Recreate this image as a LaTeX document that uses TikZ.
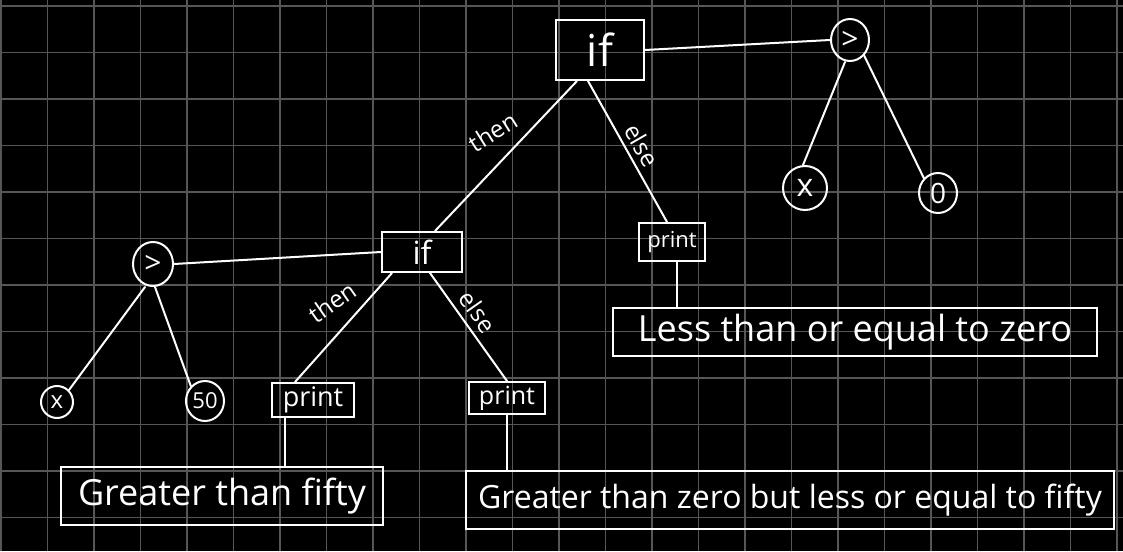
\documentclass[tikz,border=0pt]{standalone}
\usepackage{fontspec}
\setmainfont{Open Sans}
\usetikzlibrary{shapes.geometric}
\definecolor{gridgray}{HTML}{565656}
\begin{document}
\begin{tikzpicture}[x=1pt,y=-1pt,
  ink/.style={draw=white, line width=2pt},
  gridline/.style={draw=gridgray, line width=1.2pt},
  boxnode/.style={ink, rectangle, text=white, inner sep=0pt},
  opnode/.style={ink, ellipse, text=white, inner sep=0pt},
  conn/.style={ink, line cap=round},
  lbl/.style={text=white, inner sep=0pt, font=\fontsize{24}{26}\selectfont},
  fs/.style={font=\fontsize{#1}{#1}\selectfont}]
% background and grid
\fill[black] (0,0) rectangle (1123,551);
\useasboundingbox (0,0) rectangle (1123,551);
\foreach \i in {0,...,24} \draw[gridline] ({1+46.5*\i},0) -- ({1+46.5*\i},551);
\foreach \j in {0,...,11} \draw[gridline] (0,{6+46.5*\j}) -- (1123,{6+46.5*\j});

% top tree
\node[boxnode, minimum width=88, minimum height=60, fs=44] (if1) at (600,50) {if};
\node[opnode, minimum width=38, minimum height=42, fs=30] (gt1) at (850,40) {>};
\node[opnode, minimum width=44, minimum height=44, fs=32] (x1) at (805,188) {x};
\node[opnode, minimum width=38, minimum height=40, fs=28] (z1) at (938,193) {0};
\node[boxnode, minimum width=66, minimum height=38, fs=22] (p1) at (672,242) {print};
\node[boxnode, minimum width=484, minimum height=48, fs=36] (less) at (855,332) {Less than or equal to zero};

% left subtree
\node[boxnode, minimum width=80, minimum height=40, fs=32] (if2) at (422,252) {if};
\node[opnode, minimum width=40, minimum height=44, fs=30] (gt2) at (153,264) {>};
\node[opnode, minimum width=32, minimum height=32, fs=24] (x2) at (57,402) {x};
\node[opnode, minimum width=38, minimum height=40, fs=22] (f2) at (205,401) {50};
\node[boxnode, minimum width=82, minimum height=34, fs=27] (p2) at (313,400) {print};
\node[boxnode, minimum width=76, minimum height=32, fs=25] (p3) at (507,398) {print};
\node[boxnode, minimum width=322, minimum height=58, fs=36] (gf) at (222,496) {Greater than fifty};
\node[boxnode, minimum width=648, minimum height=58, fs=32] (gz) at (790,500) {Greater than zero but less or equal to fifty};

% connectors
\draw[conn] (if1.east) -- (gt1.west);
\draw[conn] ([xshift=-23]if1.south) -- ([xshift=13]if2.north);
\draw[conn] ([xshift=-12]if1.south) -- ([xshift=-5]p1.north);
\draw[conn] ([xshift=-5]gt1.south) -- ([xshift=-2]x1.north);
\draw[conn] (gt1.south east) -- (z1.north west);
\draw[conn] ([xshift=5]p1.south) -- ([xshift=5]p1.south |- less.north);

\draw[conn] (if2.west) -- (gt2.east);
\draw[conn] ([xshift=-8]gt2.south) -- (x2.north east);
\draw[conn] ([xshift=2]gt2.south) -- (f2.north west);
\draw[conn] ([xshift=-30]if2.south) -- ([xshift=-18]p2.north);
\draw[conn] ([xshift=8]if2.south) -- (p3.north);
\draw[conn] ([xshift=-28]p2.south) -- ([xshift=-28]p2.south |- gf.north);
\draw[conn] (p3.south) -- (p3.south |- gz.north);

% edge labels
\node[lbl, rotate=32] (lt1) at (493,132) {then};
\node[lbl, rotate=-60] (le1) at (642,145) {else};
\node[lbl, rotate=35] (lt2) at (332,302) {then};
\node[lbl, rotate=-55] (le2) at (478,312) {else};
\end{tikzpicture}
\end{document}
